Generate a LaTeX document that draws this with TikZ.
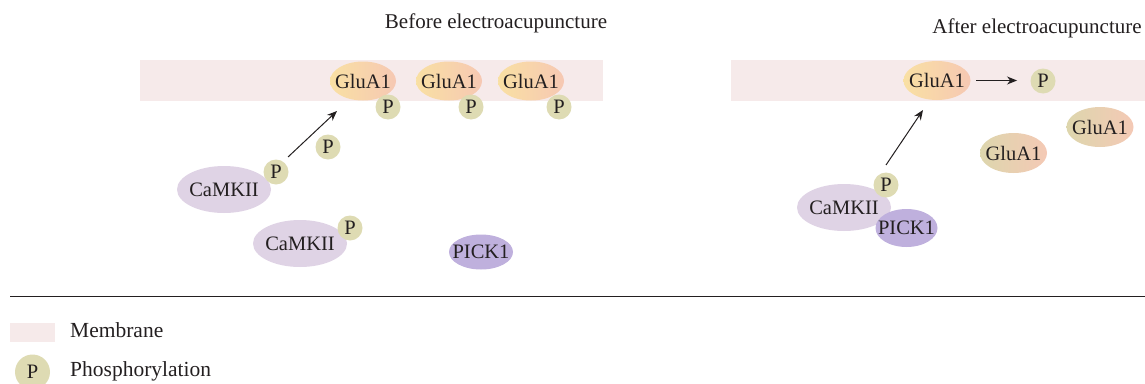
\documentclass[tikz,border=0pt]{standalone}
\usepackage{fontspec}
\setmainfont{Liberation Serif}
\usetikzlibrary{shapes.geometric,arrows.meta}
\definecolor{membr}{HTML}{F6EAEA}
\definecolor{pcol}{HTML}{DEDBB3}
\definecolor{camk}{HTML}{DFD3E5}
\definecolor{pick}{HTML}{BFB0DD}
\definecolor{gluL}{HTML}{F9E0A3}
\definecolor{gluR}{HTML}{F6C8B3}
\definecolor{offL}{HTML}{DDD6AD}
\definecolor{offR}{HTML}{F4C9B5}
\definecolor{ink}{HTML}{231F20}
\begin{document}
\begin{tikzpicture}[x=1pt,y=-1pt,
  font=\fontsize{20.5}{23}\selectfont, text=ink,
  membrane/.style={fill=membr, draw=none},
  blob/.style={ellipse, inner xsep=-30pt, inner ysep=-12pt, draw=none},
  glu/.style={blob, minimum width=66pt, minimum height=39pt, left color=gluL, right color=gluR},
  gluoff/.style={blob, minimum width=67pt, minimum height=40pt, left color=offL, right color=offR},
  phos/.style={circle, inner sep=0pt, minimum size=25pt, fill=pcol, draw=none},
  camkii/.style={blob, minimum width=94pt, minimum height=47pt, fill=camk},
  pickone/.style={blob, minimum width=64pt, minimum height=35pt, fill=pick},
  arr/.style={draw=ink, line width=1pt, -{Stealth[length=10pt,width=8pt]}},
  title/.style={font=\fontsize{21}{24}\selectfont},
  legtext/.style={anchor=west, inner sep=0pt, font=\fontsize{21.5}{24}\selectfont}
]
\useasboundingbox (0,0) rectangle (1145,383);

% titles
\node[title] (t1) at (496,23) {Before electroacupuncture};
\node[title] (t2) at (1037,28) {After electroacupuncture};

% membranes
\fill[membrane] (140,60) rectangle (603,101);
\fill[membrane] (731,60) rectangle (1145,101);

% before
\node[glu] (g1) at (363,81) {GluA1};
\node[glu] (g2) at (449,81) {GluA1};
\node[glu] (g3) at (531,81) {GluA1};
\node[phos] (p1) at (388,107) {P};
\node[phos] (p2) at (471,107) {P};
\node[phos] (p3) at (559,107) {P};
\node[phos] (pf) at (328,147) {P};
\node[camkii] (c1) at (224,189.5) {CaMKII};
\node[phos] (pc1) at (276,172) {P};
\node[camkii] (c2) at (300,243.5) {CaMKII};
\node[phos] (pc2) at (350,228) {P};
\node[pickone] (k1) at (481,252) {PICK1};
\coordinate (a1s) at (288,157);
\coordinate (a1e) at (337,111);
\draw[arr] (a1s) -- (a1e);

% after
\node[glu, minimum width=67pt] (g4) at (937,80.5) {GluA1};
\node[phos] (p4) at (1043,81) {P};
\coordinate (a2s) at (976,80.5);
\coordinate (a2e) at (1017,80.5);
\draw[arr] (a2s) -- (a2e);
\node[gluoff] (g5) at (1100,127) {GluA1};
\node[gluoff] (g6) at (1013.5,153) {GluA1};
\node[camkii] (c3) at (844,207.5) {CaMKII};
\node[pickone, minimum width=62pt, minimum height=38pt] (k2) at (906.5,228) {PICK1};
\node[phos] (p5) at (886,185) {P};
\coordinate (a3s) at (886,165);
\coordinate (a3e) at (923,110);
\draw[arr] (a3s) -- (a3e);

% separator
\coordinate (l1) at (10,296);
\coordinate (l2) at (1145,296);
\draw[draw=ink, line width=1pt] (l1) -- (l2);

% legend
\fill[membrane] (10,323) rectangle (55,342);
\node[legtext] (lm) at (70,330) {Membrane};
\node[phos, minimum size=35pt] (lp) at (32.5,372) {P};
\node[legtext] (lpt) at (70,371) {Phosphorylation};
\end{tikzpicture}
\end{document}
